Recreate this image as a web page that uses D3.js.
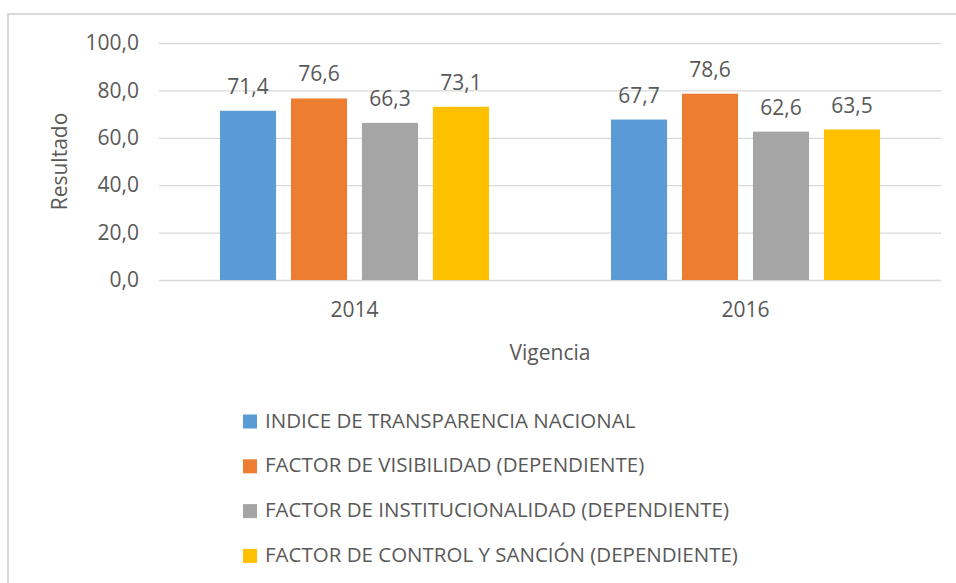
<!doctype html>
<html lang="es">
  <head>
    <meta charset="UTF-8" />
    <title>Resultado por vigencia</title>
    <script src="https://cdn.jsdelivr.net/npm/d3@7"></script>
    <style>
      html, body { margin: 0; padding: 0; background: #fff; }
      svg text { font-family: "Open Sans", "Noto Sans", sans-serif; fill: #595959; }
    </style>
  </head>
  <body>
    <div id="chart"></div>
    <script>
      // data
      const years = ["2014", "2016"];
      const series = [
        "INDICE DE TRANSPARENCIA NACIONAL",
        "FACTOR DE VISIBILIDAD (DEPENDIENTE)",
        "FACTOR DE INSTITUCIONALIDAD (DEPENDIENTE)",
        "FACTOR DE CONTROL Y SANCIÓN (DEPENDIENTE)"
      ];
      const values2014 = [71.4, 76.6, 66.3, 73.1];
      const values2016 = [67.7, 78.6, 62.6, 63.5];
      const yTicks = [0, 20, 40, 60, 80, 100];
      const colors = ["#5B9BD5", "#ED7D31", "#A5A5A5", "#FFC000"];

      const valuesByYear = [values2014, values2016];

      const width = 956;
      const height = 583;
      const marginLeft = 159;
      const marginRight = 15;
      const marginTop = 43;
      const plotBottom = 280;

      const fmt = (v) => d3.format(".1f")(v).replace(".", ",");

      const svg = d3.select("#chart").append("svg")
        .attr("width", width)
        .attr("height", height);

      // chart frame
      svg.append("rect")
        .attr("x", 8)
        .attr("y", 14)
        .attr("width", width + 20)
        .attr("height", height + 20)
        .attr("fill", "#fff")
        .attr("stroke", "#D9D9D9")
        .attr("stroke-width", 2);

      const x0 = d3.scaleBand()
        .domain(years)
        .range([marginLeft, width - marginRight])
        .paddingInner(0.312)
        .paddingOuter(0.156);

      const x1 = d3.scaleBand()
        .domain(series)
        .range([0, x0.bandwidth()])
        .paddingInner(0.21);

      const y = d3.scaleLinear()
        .domain([0, 100])
        .range([plotBottom, marginTop]);

      // gridlines + y labels
      const yAxis = svg.append("g")
        .attr("transform", `translate(${marginLeft},0)`)
        .call(d3.axisLeft(y).tickValues(yTicks).tickFormat(fmt)
          .tickSize(-(width - marginRight - marginLeft)).tickPadding(20));
      yAxis.select(".domain").remove();
      yAxis.selectAll(".tick line").attr("stroke", "#D9D9D9").attr("stroke-width", 1.3);
      yAxis.selectAll(".tick text")
        .attr("font-size", 21)
        .attr("font-family", null)
        .attr("fill", null);

      // category axis
      const xAxis = svg.append("g")
        .attr("transform", `translate(0,${plotBottom})`)
        .call(d3.axisBottom(x0).tickSize(0).tickPadding(22));
      xAxis.select(".domain").remove();
      xAxis.selectAll(".tick text")
        .attr("font-size", 21)
        .attr("font-family", null)
        .attr("fill", null);

      // bars
      const groups = svg.append("g").selectAll("g")
        .data(years)
        .join("g")
        .attr("transform", (d) => `translate(${x0(d)},0)`);

      groups.selectAll("rect")
        .data((d, i) => series.map((s, j) => ({ s, v: valuesByYear[i][j], j })))
        .join("rect")
        .attr("x", (d) => x1(d.s))
        .attr("y", (d) => y(d.v))
        .attr("width", x1.bandwidth())
        .attr("height", (d) => y(0) - y(d.v))
        .attr("fill", (d) => colors[d.j]);

      groups.selectAll("text")
        .data((d, i) => series.map((s, j) => ({ s, v: valuesByYear[i][j], j })))
        .join("text")
        .attr("x", (d) => x1(d.s) + x1.bandwidth() / 2)
        .attr("y", (d) => y(d.v) - 17)
        .attr("text-anchor", "middle")
        .attr("font-size", 21)
        .text((d) => fmt(d.v));

      // axis titles
      svg.append("text")
        .attr("transform", `translate(67,${(marginTop + plotBottom) / 2}) rotate(-90)`)
        .attr("text-anchor", "middle")
        .attr("font-size", 21)
        .text("Resultado");

      svg.append("text")
        .attr("x", 550)
        .attr("y", 360)
        .attr("text-anchor", "middle")
        .attr("font-size", 21)
        .text("Vigencia");

      // legend
      const legend = svg.append("g").selectAll("g")
        .data(series)
        .join("g")
        .attr("transform", (d, i) => `translate(243,${421.5 + i * 44.8})`);

      legend.append("rect")
        .attr("x", 0)
        .attr("y", -7)
        .attr("width", 14)
        .attr("height", 14)
        .attr("fill", (d, i) => colors[i]);

      legend.append("text")
        .attr("x", 22)
        .attr("y", -1)
        .attr("dy", "0.35em")
        .attr("font-size", 20.5)
        .text((d) => d);
    </script>
  </body>
</html>
